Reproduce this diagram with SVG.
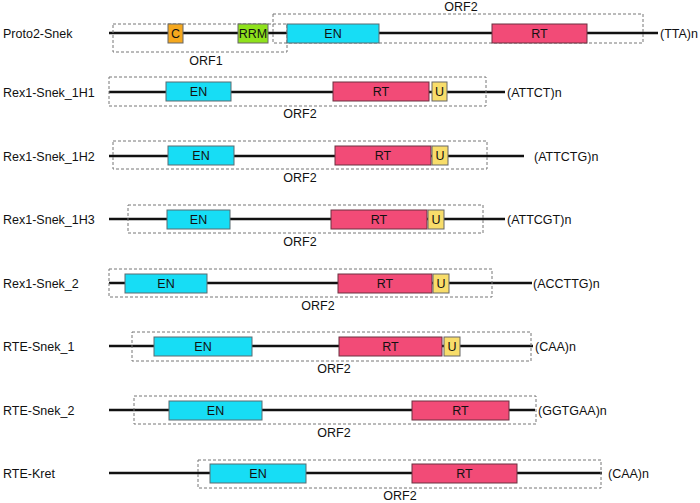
<svg xmlns="http://www.w3.org/2000/svg" width="700" height="503" viewBox="0 0 700 503">
<style>
text{font-family:"Liberation Sans",Arial,sans-serif;font-size:12.5px;fill:#111}
.bb{stroke:#111;stroke-width:2.5}
.orf{fill:none;stroke:#777;stroke-width:1;stroke-dasharray:3,2}
.en{fill:#17DDF5;stroke:#5a6b70;stroke-width:1}
.rt{fill:#F24B77;stroke:#6b3040;stroke-width:1}
.u{fill:#F8DD6A;stroke:#666;stroke-width:1}
.c{fill:#F5A81E;stroke:#666;stroke-width:1}
.rrm{fill:#8FE21C;stroke:#666;stroke-width:1}
.m{text-anchor:middle}
</style>
<rect width="700" height="503" fill="#fff"/>
<g id="connectors">
<line class="bb" x1="109" y1="33" x2="658" y2="33"/>
<line class="bb" x1="109" y1="92" x2="505" y2="92"/>
<line class="bb" x1="109" y1="156" x2="524" y2="156"/>
<line class="bb" x1="109" y1="219" x2="505" y2="219"/>
<line class="bb" x1="109" y1="283" x2="532" y2="283"/>
<line class="bb" x1="109" y1="346" x2="533" y2="346"/>
<line class="bb" x1="109" y1="410" x2="535" y2="410"/>
<line class="bb" x1="109" y1="473" x2="602" y2="473"/>
</g>
<g id="proto2-snek">
<text x="3" y="37.5">Proto2-Snek</text>
<rect class="orf" x="113" y="24" width="174" height="28"/>
<rect class="orf" x="273" y="14" width="370" height="29"/>
<rect class="c" x="168" y="24" width="15" height="19"/><text class="m" x="175.5" y="38">C</text>
<rect class="rrm" x="238" y="24" width="30" height="19"/><text class="m" x="253" y="38">RRM</text>
<rect class="en" x="287" y="24" width="92" height="19"/><text class="m" x="333" y="38">EN</text>
<rect class="rt" x="492" y="24" width="95" height="19"/><text class="m" x="539.5" y="38">RT</text>
<text class="m" x="206" y="65">ORF1</text>
<text class="m" x="461" y="11">ORF2</text>
<text x="660" y="37.5">(TTA)n</text>
</g>
<g id="rex1-snek-1h1">
<text x="3" y="96.5">Rex1-Snek_1H1</text>
<rect class="orf" x="109" y="77" width="377" height="29"/>
<rect class="en" x="166" y="82" width="65" height="19"/><text class="m" x="198.5" y="96">EN</text>
<rect class="rt" x="333" y="82" width="96" height="19"/><text class="m" x="381" y="96">RT</text>
<rect class="u" x="432" y="82" width="15" height="19"/><text class="m" x="439.5" y="96">U</text>
<text class="m" x="300" y="118">ORF2</text>
<text x="507" y="96.5">(ATTCT)n</text>
</g>
<g id="rex1-snek-1h2">
<text x="3" y="160.5">Rex1-Snek_1H2</text>
<rect class="orf" x="113" y="141" width="374" height="28"/>
<rect class="en" x="168" y="146" width="66" height="19"/><text class="m" x="201" y="160">EN</text>
<rect class="rt" x="335" y="146" width="96" height="19"/><text class="m" x="383" y="160">RT</text>
<rect class="u" x="432" y="146" width="16" height="19"/><text class="m" x="440" y="160">U</text>
<text class="m" x="300" y="182">ORF2</text>
<text x="534" y="160.5">(ATTCTG)n</text>
</g>
<g id="rex1-snek-1h3">
<text x="3" y="223.5">Rex1-Snek_1H3</text>
<rect class="orf" x="128" y="205" width="355" height="28"/>
<rect class="en" x="167" y="210" width="63" height="19"/><text class="m" x="198.5" y="224">EN</text>
<rect class="rt" x="331" y="210" width="96" height="19"/><text class="m" x="379" y="224">RT</text>
<rect class="u" x="428" y="210" width="16" height="19"/><text class="m" x="436" y="224">U</text>
<text class="m" x="300" y="246">ORF2</text>
<text x="507" y="223.5">(ATTCGT)n</text>
</g>
<g id="rex1-snek-2">
<text x="3" y="287.5">Rex1-Snek_2</text>
<rect class="orf" x="109" y="269" width="383" height="28"/>
<rect class="en" x="125" y="274" width="82" height="19"/><text class="m" x="166" y="288">EN</text>
<rect class="rt" x="338" y="274" width="94" height="19"/><text class="m" x="385" y="288">RT</text>
<rect class="u" x="433" y="274" width="16" height="19"/><text class="m" x="441" y="288">U</text>
<text class="m" x="318" y="310">ORF2</text>
<text x="533" y="287.5">(ACCTTG)n</text>
</g>
<g id="rte-snek-1">
<text x="3" y="350.5">RTE-Snek_1</text>
<rect class="orf" x="132" y="332" width="399" height="29"/>
<rect class="en" x="154" y="337" width="98" height="19"/><text class="m" x="203" y="351">EN</text>
<rect class="rt" x="339" y="337" width="103" height="19"/><text class="m" x="390.5" y="351">RT</text>
<rect class="u" x="444" y="337" width="16" height="19"/><text class="m" x="452" y="351">U</text>
<text class="m" x="334" y="373">ORF2</text>
<text x="535" y="350.5">(CAA)n</text>
</g>
<g id="rte-snek-2">
<text x="3" y="414.5">RTE-Snek_2</text>
<rect class="orf" x="134" y="396" width="402" height="28"/>
<rect class="en" x="169" y="401" width="93" height="19"/><text class="m" x="215.5" y="415">EN</text>
<rect class="rt" x="412" y="401" width="97" height="19"/><text class="m" x="460.5" y="415">RT</text>
<text class="m" x="334" y="437">ORF2</text>
<text x="538" y="414.5">(GGTGAA)n</text>
</g>
<g id="rte-kret">
<text x="3" y="477.5">RTE-Kret</text>
<rect class="orf" x="198" y="460" width="403" height="28"/>
<rect class="en" x="210" y="464" width="96" height="19"/><text class="m" x="258" y="478">EN</text>
<rect class="rt" x="412" y="464" width="105" height="19"/><text class="m" x="464.5" y="478">RT</text>
<text class="m" x="400" y="500">ORF2</text>
<text x="608" y="477.5">(CAA)n</text>
</g>
</svg>
